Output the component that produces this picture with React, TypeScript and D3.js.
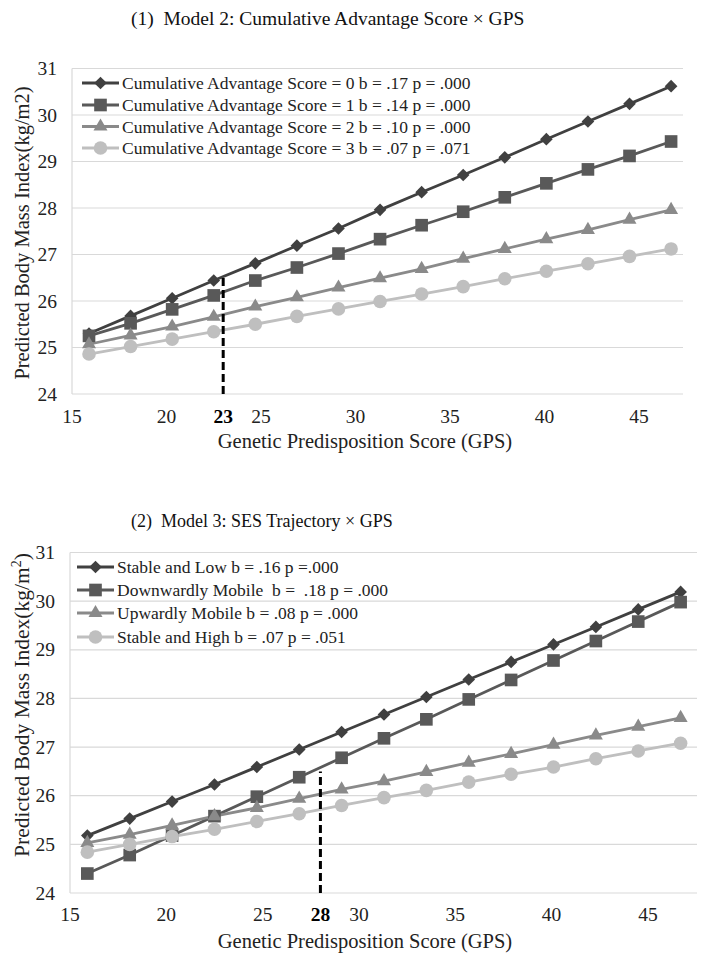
import React from "react";
import * as d3 from "d3";

// ---------- data ----------
const GPS = [15.9, 18.1, 20.3, 22.5, 24.7, 26.9, 29.1, 31.3, 33.5, 35.7, 37.9, 40.1, 42.3, 44.5, 46.7];
const Y_TICKS = [24, 25, 26, 27, 28, 29, 30, 31];
const X_TICKS_1 = [15, 20, 25, 30, 35, 40, 45];
const X_TICKS_2 = [15, 20, 25, 30, 35, 40, 45];

// Panel 1: Cumulative Advantage Score x GPS
const CAS_0 = [25.3, 25.68, 26.06, 26.44, 26.81, 27.19, 27.56, 27.96, 28.34, 28.71, 29.09, 29.48, 29.86, 30.24, 30.62];
const CAS_1 = [25.25, 25.52, 25.82, 26.12, 26.44, 26.72, 27.02, 27.33, 27.63, 27.92, 28.23, 28.53, 28.83, 29.12, 29.43];
const CAS_2 = [25.07, 25.26, 25.45, 25.66, 25.88, 26.08, 26.29, 26.49, 26.69, 26.91, 27.12, 27.33, 27.53, 27.75, 27.96];
const CAS_3 = [24.86, 25.02, 25.18, 25.34, 25.5, 25.67, 25.83, 25.99, 26.15, 26.31, 26.48, 26.64, 26.8, 26.96, 27.12];
const CAS_LABELS = [
  "Cumulative Advantage Score = 0 b = .17 p = .000",
  "Cumulative Advantage Score = 1 b = .14 p = .000",
  "Cumulative Advantage Score = 2 b = .10 p = .000",
  "Cumulative Advantage Score = 3 b = .07 p = .071",
];

// Panel 2: SES Trajectory x GPS
const SES_LOW = [25.18, 25.53, 25.88, 26.23, 26.59, 26.95, 27.31, 27.67, 28.03, 28.39, 28.75, 29.11, 29.47, 29.83, 30.19];
const SES_DOWN = [24.4, 24.78, 25.18, 25.58, 25.98, 26.38, 26.78, 27.18, 27.57, 27.98, 28.38, 28.78, 29.18, 29.58, 29.98];
const SES_UP = [25.03, 25.2, 25.39, 25.58, 25.75, 25.94, 26.13, 26.3, 26.49, 26.68, 26.86, 27.05, 27.24, 27.42, 27.6];
const SES_HIGH = [24.84, 25.0, 25.16, 25.31, 25.47, 25.63, 25.8, 25.96, 26.11, 26.28, 26.44, 26.59, 26.76, 26.92, 27.08];
const SES_LABELS = [
  "Stable and Low b = .16 p =.000",
  "Downwardly Mobile  b =  .18 p = .000",
  "Upwardly Mobile b = .08 p = .000",
  "Stable and High b = .07 p = .051",
];

const COLORS = ["#404040", "#595959", "#8a8a8a", "#bfbfbf"];
const SHAPES = ["diamond", "square", "triangle", "circle"];
const FONT = "'Liberation Serif', 'Times New Roman', serif";

function markerPath(shape: string): string {
  if (shape === "diamond") return d3.symbol(d3.symbolSquare, 80)() as string;
  if (shape === "square") return d3.symbol(d3.symbolSquare, 160)() as string;
  if (shape === "triangle") return d3.symbol(d3.symbolTriangle, 85)() as string;
  return d3.symbol(d3.symbolCircle, 145)() as string;
}

function Marker({ shape, color, x, y }: { shape: string; color: string; x: number; y: number }) {
  const rot = shape === "diamond" ? " rotate(45)" : "";
  return <path d={markerPath(shape)} fill={color} transform={`translate(${x},${y})${rot}`} />;
}

type PanelProps = {
  title: string;
  titleY: number;
  titleSize: number;
  left: number;
  right: number;
  top: number;
  bottom: number;
  xMax: number;
  xTicks: number[];
  series: number[][];
  labels: string[];
  legendRows: number[];
  legendLine: [number, number];
  legendText: number;
  mark: number;
  markTop: number;
  yTitleCenter: number;
  yTitleSize: number;
  superscript: boolean;
  tickY: number;
  xTitleY: number;
};

function Panel(p: PanelProps) {
  const x = d3.scaleLinear().domain([15, p.xMax]).range([p.left, p.right]);
  const y = d3.scaleLinear().domain([24, 31]).range([p.bottom, p.top]);
  const line = d3
    .line<number>()
    .x((_, i) => x(GPS[i]))
    .y((d) => y(d));
  return (
    <g>
      <text x={131} y={p.titleY} fontFamily={FONT} fontSize={p.titleSize} fill="#111" xmlSpace="preserve">
        {p.title}
      </text>
      {Y_TICKS.map((t) => (
        <line key={t} x1={p.left} x2={p.right} y1={y(t)} y2={y(t)} stroke="#d9d9d9" strokeWidth={1.2} />
      ))}
      <line x1={p.left} x2={p.left} y1={p.top} y2={p.bottom} stroke="#d9d9d9" strokeWidth={1.2} />
      {Y_TICKS.map((t) => (
        <text key={t} x={p.left - 15} y={y(t) + 6.5} textAnchor="end" fontFamily={FONT} fontSize={19.5} fill="#222">
          {t}
        </text>
      ))}
      {p.xTicks.map((t) => (
        <text key={t} x={x(t)} y={p.tickY} textAnchor="middle" fontFamily={FONT} fontSize={19.5} fill="#222">
          {t}
        </text>
      ))}
      <text x={x(p.mark)} y={p.tickY} textAnchor="middle" fontFamily={FONT} fontSize={19.5} fontWeight="bold" fill="#000">
        {p.mark}
      </text>
      <text x={365} y={p.xTitleY} textAnchor="middle" fontFamily={FONT} fontSize={20.5} fill="#222">
        Genetic Predisposition Score (GPS)
      </text>
      <text
        transform={`translate(29,${p.yTitleCenter}) rotate(-90)`}
        textAnchor="middle"
        fontFamily={FONT}
        fontSize={p.yTitleSize}
        fill="#222"
      >
        {p.superscript ? (
          <>
            Predicted Body Mass Index(kg/m
            <tspan fontSize={p.yTitleSize * 0.65} dy={-8}>
              2
            </tspan>
            <tspan dy={8}>)</tspan>
          </>
        ) : (
          "Predicted Body Mass Index(kg/m2)"
        )}
      </text>
      {p.series.map((s, si) => (
        <path key={si} d={line(s) as string} fill="none" stroke={COLORS[si]} strokeWidth={2.8} />
      ))}
      {p.series.map((s, si) =>
        s.map((v, i) => <Marker key={si + "-" + i} shape={SHAPES[si]} color={COLORS[si]} x={x(GPS[i])} y={y(v)} />)
      )}
      <line
        x1={x(p.mark)}
        x2={x(p.mark)}
        y1={p.bottom}
        y2={y(p.markTop)}
        stroke="#000"
        strokeWidth={3}
        strokeDasharray="8,4"
      />
      {p.labels.map((lab, i) => (
        <g key={lab}>
          <line
            x1={p.legendLine[0]}
            x2={p.legendLine[1]}
            y1={p.legendRows[i]}
            y2={p.legendRows[i]}
            stroke={COLORS[i]}
            strokeWidth={2.8}
          />
          <Marker
            shape={SHAPES[i]}
            color={COLORS[i]}
            x={(p.legendLine[0] + p.legendLine[1]) / 2}
            y={p.legendRows[i]}
          />
          <text
            x={p.legendText}
            y={p.legendRows[i] + 6}
            fontFamily={FONT}
            fontSize={17.5}
            fill="#222"
            xmlSpace="preserve"
          >
            {lab}
          </text>
        </g>
      ))}
    </g>
  );
}

export default function App() {
  return (
    <svg
      width={704}
      height={967}
      style={{ position: "absolute", left: 0, top: 0, background: "#fff", whiteSpace: "pre" }}
      xmlns="http://www.w3.org/2000/svg"
    >
      <rect width={704} height={967} fill="#fff" />
      <Panel
        title="(1)  Model 2: Cumulative Advantage Score × GPS"
        titleY={25}
        titleSize={19.5}
        left={72}
        right={683}
        top={68.5}
        bottom={394}
        xMax={47.33}
        xTicks={X_TICKS_1}
        series={[CAS_0, CAS_1, CAS_2, CAS_3]}
        labels={CAS_LABELS}
        legendRows={[83, 105, 126.5, 148]}
        legendLine={[82, 119]}
        legendText={122}
        mark={23}
        markTop={26.5}
        yTitleCenter={233}
        yTitleSize={20.5}
        superscript={false}
        tickY={423}
        xTitleY={448}
      />
      <Panel
        title="(2)  Model 3: SES Trajectory × GPS"
        titleY={527}
        titleSize={18}
        left={70}
        right={697}
        top={552.5}
        bottom={893}
        xMax={47.55}
        xTicks={X_TICKS_2}
        series={[SES_LOW, SES_DOWN, SES_UP, SES_HIGH]}
        labels={SES_LABELS}
        legendRows={[567, 590, 613, 637]}
        legendLine={[77, 114]}
        legendText={117}
        mark={28}
        markTop={26.5}
        yTitleCenter={705}
        yTitleSize={21.5}
        superscript={true}
        tickY={921}
        xTitleY={948}
      />
    </svg>
  );
}
